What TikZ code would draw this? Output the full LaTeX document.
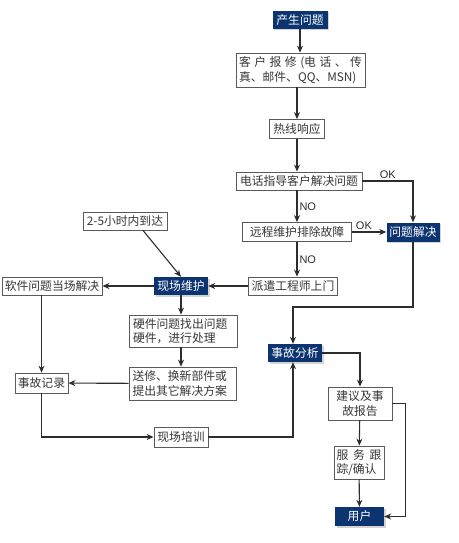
\documentclass[tikz,border=0pt]{standalone}
\usepackage{fontspec}
\setmainfont{Noto Sans CJK SC}
\newfontfamily\labelfont{Liberation Sans}
\usetikzlibrary{positioning,arrows.meta,shadows}
\definecolor{svcNavy}{RGB}{12,52,112}
\definecolor{svcLine}{RGB}{45,45,45}
\definecolor{svcEdge}{RGB}{90,90,90}
\definecolor{svcText}{RGB}{55,55,55}
\tikzset{
    base/.style={font=\fontsize{11.8}{14.5}\selectfont, align=center, inner sep=1pt},
    stepbox/.style={base, rectangle, draw=svcEdge, line width=0.8pt, fill=white, text=svcText},
    keybox/.style={base, rectangle, fill=svcNavy, text=white,
                   drop shadow={opacity=0.35, shadow xshift=1.5pt, shadow yshift=-1.5pt}},
    flow/.style={-{Stealth[length=7pt,width=6pt]}, line width=1.1pt, color=svcLine},
    verdict/.style={font=\labelfont\fontsize{11}{12}\selectfont, text=svcLine, inner sep=2pt}
}
\begin{document}
\begin{tikzpicture}[x={(1pt,0pt)}, y={(0pt,-1pt)}]
  \useasboundingbox (0,0) rectangle (458,543);

  \node[keybox, minimum width=55pt, minimum height=18pt] (start) at (300,20) {产生问题};
  \node[stepbox, minimum width=129pt, minimum height=34pt, text width=123pt, align=left] (report) at (300.5,70)
       {客\hfill 户\hfill 报\hfill 修\hfill (电\hfill 话\hfill 、\hfill 传\\真、邮件、QQ、MSN)};
  \node[stepbox, minimum width=55pt, minimum height=19pt] (hotline) at (297,129) {热线响应};
  \node[stepbox, minimum width=126pt, minimum height=18pt] (phone) at (299,181) {电话指导客户解决问题};
  \node[stepbox, minimum width=109pt, minimum height=19pt] (remote) at (297,232) {远程维护排除故障};
  \node[keybox, minimum width=53pt, minimum height=19pt] (solved) at (413,232) {问题解决};
  \node[stepbox, minimum width=89pt, minimum height=18pt] (dispatch) at (293,286) {派遣工程师上门};
  \node[stepbox, minimum width=84pt, minimum height=18pt] (arrive) at (125,221) {2-5小时内到达};
  \node[keybox, minimum width=54pt, minimum height=18pt] (onsite) at (181,286) {现场维护};
  \node[stepbox, minimum width=100pt, minimum height=18pt] (software) at (52,286) {软件问题当场解决};
  \node[stepbox, minimum width=108pt, minimum height=32pt, text width=100pt, align=left] (hardware) at (183,331)
       {硬件问题找出问题\\硬件，进行处理};
  \node[stepbox, minimum width=107pt, minimum height=33pt, text width=100pt, align=left] (repair) at (182.5,383.5)
       {送修、换新部件或\\提出其它解决方案};
  \node[stepbox, minimum width=53pt, minimum height=20pt] (record) at (41.5,383) {事故记录};
  \node[stepbox, minimum width=54pt, minimum height=20pt] (training) at (181,437) {现场培训};
  \node[keybox, minimum width=54pt, minimum height=18pt] (analysis) at (295,353) {事故分析};
  \node[stepbox, minimum width=64pt, minimum height=33pt] (advice) at (360,403.5) {建议及事\\故报告};
  \node[stepbox, minimum width=50pt, minimum height=33pt, text width=45pt, align=left] (follow) at (359,462.5)
       {服\hfill 务\hfill 跟\\踪/确认};
  \node[keybox, minimum width=49pt, minimum height=19pt] (user) at (359.5,516.5) {用户};

  \coordinate (merge) at (293,307);

  \draw[flow] (start) -- (start |- report.north);
  \draw[flow] (hotline |- report.south) -- (hotline);
  \draw[flow] (hotline) -- (hotline |- phone.north);
  \draw[flow] (phone.south -| remote) -- node[verdict, right] {NO} (remote);
  \draw[flow] (phone) -| node[verdict, above, pos=0.25] {OK} (solved);
  \draw[flow] (remote) -- node[verdict, above, pos=0.35] {OK} (solved);
  \draw[flow] (remote) -- node[verdict, right] {NO} (remote |- dispatch.north);
  \draw[flow] (solved) |- (merge) -- (merge |- analysis.north);
  \draw[flow] (dispatch) -- (onsite);
  \draw[flow] (onsite) -- (software);
  \draw[flow] ([xshift=18pt]arrive.south) -- (onsite.north);
  \draw[flow] (onsite) -- (onsite |- hardware.north);
  \draw[flow] (onsite |- hardware.south) -- (onsite |- repair.north);
  \draw[flow] (repair) -- (record);
  \draw[flow] (record |- software.south) -- (record);
  \draw[flow] (record) |- (training);
  \draw[flow] (training) -| (merge |- analysis.south);
  \draw[flow] (analysis) -| (advice);
  \draw[flow] (advice) -- (follow);
  \draw[flow] (follow) -- (user);
  \draw[flow] (advice.east) -- ++(13,0) |- (user.east);
\end{tikzpicture}
\end{document}
